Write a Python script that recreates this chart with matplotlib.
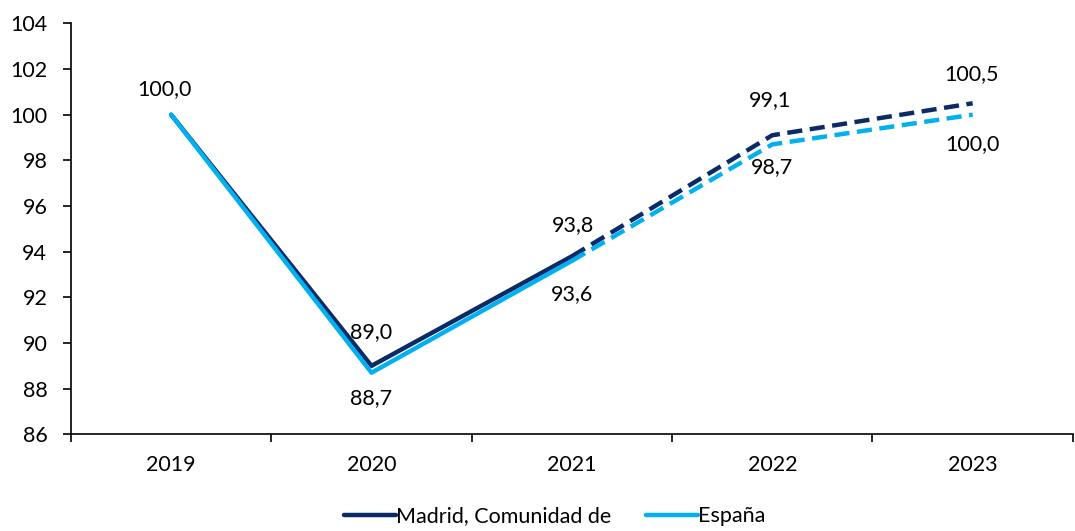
import matplotlib
matplotlib.use("Agg")
import matplotlib.pyplot as plt
from matplotlib.ticker import FixedLocator

plt.rcParams['font.family'] = ['Lato', 'DejaVu Sans']

years = ["2019", "2020", "2021", "2022", "2023"]
madrid = [100.0, 89.0, 93.8, 99.1, 100.5]
espana = [100.0, 88.7, 93.6, 98.7, 100.0]
madrid_name = "Madrid, Comunidad de"
espana_name = "España"
last_real = 2  # index of last non-dashed point (2021)

c_madrid = "#0B2A66"
c_espana = "#00B0F0"

fig = plt.figure(figsize=(10.75, 5.31), dpi=100)
ax = fig.add_axes([0.066, 0.182, 0.932, 0.774])

x = list(range(len(years)))
# solid parts
ax.plot(x[:last_real + 1], madrid[:last_real + 1], color=c_madrid, lw=3.2,
        solid_capstyle="round", label=madrid_name, zorder=3)
ax.plot(x[:last_real + 1], espana[:last_real + 1], color=c_espana, lw=3.2,
        solid_capstyle="round", label=espana_name, zorder=4)
# dashed parts
ax.plot(x[last_real:], madrid[last_real:], color=c_madrid, lw=3.2,
        ls=(0, (3.4, 1.7)), dash_capstyle="butt", zorder=3)
ax.plot(x[last_real:], espana[last_real:], color=c_espana, lw=3.2,
        ls=(0, (3.4, 1.7)), dash_capstyle="butt", zorder=4)

fmt = lambda v: f"{v:.1f}".replace(".", ",")
fs = 15.5
px = 0.72  # pixels -> points
# Madrid labels above (pixel offsets of label centre)
m_off = [(-7, 26), (0, 34), (1, 31), (-2, 35), (-1, 29)]
for i, v in enumerate(madrid):
    ax.annotate(fmt(v), (x[i], v), xytext=(m_off[i][0] * px, m_off[i][1] * px),
                textcoords="offset points", ha="center", va="center", fontsize=fs)
# España labels below
e_off = [None, (0, -25), (0, -33), (0, -23), (0, -29)]
for i, v in enumerate(espana):
    if e_off[i] is None:
        continue
    ax.annotate(fmt(v), (x[i], v), xytext=(e_off[i][0] * px, e_off[i][1] * px),
                textcoords="offset points", ha="center", va="center", fontsize=fs)

ax.set_xlim(-0.5, len(years) - 0.5)
ax.set_ylim(86, 104)
ax.set_yticks(range(86, 105, 2))
ax.set_xticks(x)
ax.set_xticklabels(years)
ax.xaxis.set_minor_locator(FixedLocator([i - 0.5 for i in range(len(years) + 1)]))
ax.tick_params(axis="x", which="major", length=0, pad=15, labelsize=fs)
ax.tick_params(axis="x", which="minor", length=6, width=1.2, direction="out")
ax.tick_params(axis="y", length=6, width=1.2, labelsize=fs, pad=11)
for s in ["top", "right"]:
    ax.spines[s].set_visible(False)
for s in ["left", "bottom"]:
    ax.spines[s].set_linewidth(1.2)

fig.legend(loc="center", bbox_to_anchor=(0.516, 0.028), ncol=2, frameon=False,
           fontsize=fs, handlelength=2.4, handletextpad=0.0, columnspacing=1.6)

fig.savefig("out.png", dpi=100)
